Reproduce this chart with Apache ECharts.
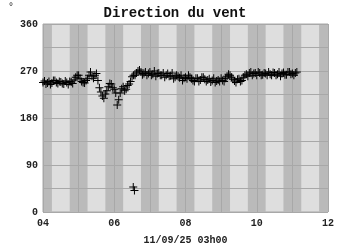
<!DOCTYPE html>
<html><head><meta charset="utf-8">
<script src="https://cdn.jsdelivr.net/npm/echarts@6/dist/echarts.min.js"></script>
<style>html,body{margin:0;padding:0;background:#fff}#c{width:350px;height:250px}</style>
</head><body><div id="c"></div>
<script>
// Wind direction (degrees): readings every 5 minutes from 04:00, plus intermediate readings offset by 2.5 min
const startHour = 4;
const stepMinutes = 5;
const directionValues = [
  248,245,250,247,252,246,249,245,248,250,246,258, // 04:00-04:55
  262,250,247,255,268,256,265,238,222,226,240,245, // 05:00-05:55
  235,205,228,240,235,245,259,262,270,268,265,262, // 06:00-06:55
  268,264,260,266,262,258,265,261,255,262,257,252, // 07:00-07:55
  258,262,255,250,256,253,258,250,255,252,248,253, // 08:00-08:55
  256,250,260,262,254,248,255,252,262,260,268,265, // 09:00-09:55
  262,266,263,265,268,262,266,264,260,267,263,268, // 10:00-10:55
  265,266                                            // 11:00-11:05
];
const directionValuesMid = [
  251,247,244,252,248,250,246,251,244,249,253,262, // 04:02-04:57
  255,248,252,262,260,262,252,230,218,232,246,238, // 05:02-05:57
  228,215,236,232,242,250,262,266,272,263,268,265, // 06:02-06:57
  262,270,265,262,266,262,260,266,258,260,262,256, // 07:02-07:57
  255,258,252,256,250,258,254,253,249,256,251,250, // 08:02-08:57
  252,256,264,258,251,254,250,258,264,266,262,266, // 09:02-09:57
  268,262,266,262,264,267,262,268,265,263,268,264, // 10:02-10:57
  262,268                                            // 11:02-11:07
];
const outlierTimes = ['06:32', '06:34'];
const outlierValues = [48, 41];
const xTicks = ['04','06','08','10','12'];
const yTicks = [0, 90, 180, 270, 360];
const titleText = 'Direction du vent';
const xAxisTitle = '11/09/25 03h00';
const unitText = '°';

const toHours = s => { const [h, m] = s.split(':').map(Number); return h + m / 60; };
const points = directionValues.map((v, i) => [startHour + i * stepMinutes / 60, v]);
directionValuesMid.forEach((v, i) => points.push([startHour + (i + 0.5) * stepMinutes / 60, v]));
outlierTimes.forEach((t, i) => points.push([toHours(t), outlierValues[i]]));

const bands = [];
for (let h = 4; h <= 12; h++) {
  bands.push([{ xAxis: Math.max(4, h - 0.25) }, { xAxis: Math.min(12, h + 0.25) }]);
}

const mono = 'Liberation Mono';
const chart = echarts.init(document.getElementById('c'), null, { renderer: 'canvas' });
chart.setOption({
  animation: false,
  backgroundColor: '#ffffff',
  title: {
    text: titleText, left: 'center', top: 1,
    textStyle: { fontFamily: mono, fontWeight: 'bold', fontSize: 14, color: '#111' }
  },
  graphic: [{ type: 'text', left: 8, top: 2, style: { text: unitText, font: '10px ' + mono, fill: '#222' } }],
  grid: { left: 43, right: 22, top: 24, bottom: 33, show: true, backgroundColor: '#dedede', borderColor: '#a8a8a8', borderWidth: 1 },
  xAxis: {
    type: 'value', min: 4, max: 12, interval: 1, z: 1.5,
    axisLine: { show: false }, axisTick: { show: false },
    splitLine: { show: true, lineStyle: { color: '#a8a8a8', width: 1 } },
    axisLabel: {
      margin: 6, fontFamily: mono, fontWeight: 'bold', fontSize: 10, color: '#222',
      formatter: v => { const s = String(v).padStart(2, '0'); return xTicks.includes(s) ? s : ''; }
    },
    name: xAxisTitle, nameLocation: 'middle', nameGap: 23,
    nameTextStyle: { fontFamily: mono, fontWeight: 'bold', fontSize: 10, color: '#222' }
  },
  yAxis: {
    type: 'value', min: 0, max: 360, interval: 45, z: 1.5,
    axisLine: { show: false }, axisTick: { show: false },
    splitLine: { show: true, lineStyle: { color: '#a8a8a8', width: 1 } },
    axisLabel: {
      margin: 5, fontFamily: mono, fontWeight: 'bold', fontSize: 10, color: '#222',
      formatter: v => yTicks.includes(v) ? String(v) : ''
    }
  },
  series: [
    {
      type: 'scatter', z: 1, data: [], silent: true,
      markArea: { silent: true, itemStyle: { color: '#bababa' }, data: bands }
    },
    {
      type: 'scatter', z: 2, data: points,
      symbol: 'path://M3.5,0H4.5V3.5H8V4.5H4.5V8H3.5V4.5H0V3.5H3.5Z', symbolSize: 8,
      itemStyle: { color: '#000', opacity: 1 }
    }
  ]
});
</script></body></html>
